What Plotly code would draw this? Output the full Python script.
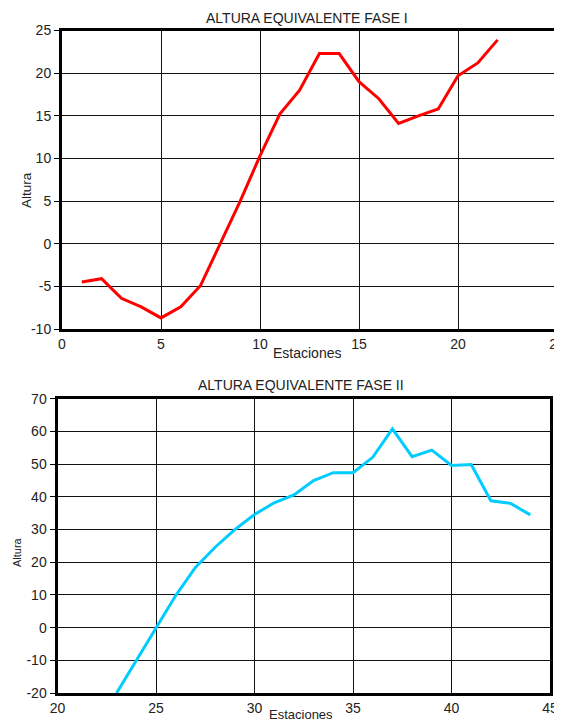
import plotly.graph_objects as go

# ---- data ----
estaciones_fase1 = list(range(1, 23))
altura_fase1 = [-4.5, -4.1, -6.4, -7.4, -8.7, -7.4, -4.9, 0.0, 5.0, 10.3, 15.2, 18.0,
                22.3, 22.3, 19.0, 17.0, 14.1, 15.0, 15.8, 19.7, 21.2, 23.9]

estaciones_fase2 = list(range(23, 45))
altura_fase2 = [-20.0, -10.0, 0.0, 9.8, 18.4, 24.6, 30.0, 34.6, 38.2, 40.6, 45.0, 47.4,
                47.4, 52.1, 60.8, 52.3, 54.3, 49.6, 49.9, 38.8, 38.0, 34.5]

x_ticks_1 = [0, 5, 10, 15, 20, 25]
y_ticks_1 = [-10, -5, 0, 5, 10, 15, 20, 25]
x_ticks_2 = [20, 25, 30, 35, 40, 45]
y_ticks_2 = [-20, -10, 0, 10, 20, 30, 40, 50, 60, 70]

title_1 = "ALTURA EQUIVALENTE FASE I"
title_2 = "ALTURA EQUIVALENTE FASE II"
x_title = "Estaciones"
y_title = "Altura"

OFF = 8  # page body margin
W, H = 562 - OFF, 722 - OFF
FONT = "Liberation Sans, Arial, sans-serif"


def px(x):
    return (x - OFF) / W


def py(y):
    return 1 - (y - OFF) / H


def labels(vals):
    return [str(v) for v in vals]


def note(text, x, y, size=12, angle=0):
    return dict(text=text, x=px(x), y=py(y), xref="paper", yref="paper",
                xanchor="center", yanchor="middle", textangle=angle,
                showarrow=False, font=dict(size=size, family=FONT, color="#222222"))


fig = go.Figure()
fig.add_trace(go.Scatter(x=estaciones_fase1, y=altura_fase1, mode="lines",
                         line=dict(color="#ff0000", width=3), xaxis="x", yaxis="y",
                         showlegend=False))
fig.add_trace(go.Scatter(x=estaciones_fase2, y=altura_fase2, mode="lines",
                         line=dict(color="#00ccff", width=3), xaxis="x2", yaxis="y2",
                         showlegend=False))

axis_common = dict(showgrid=True, gridcolor="#111111", gridwidth=1,
                   showline=True, linecolor="black", linewidth=3, mirror=True,
                   zeroline=False, tickfont=dict(family=FONT, size=14, color="#222222"),
                   automargin=False, fixedrange=True, ticklabeloverflow="allow")

fig.update_layout(
    width=W, height=H,
    margin=dict(l=0, r=0, t=0, b=0),
    paper_bgcolor="white", plot_bgcolor="white",
    font=dict(family=FONT, color="#222222"),
    xaxis=dict(domain=[px(62), px(557)], range=[0, 25], tickvals=x_ticks_1,
               ticktext=labels(x_ticks_1), anchor="y", ticks="", **axis_common),
    yaxis=dict(domain=[py(329), py(30.5)], range=[-10, 25], tickvals=y_ticks_1,
               ticktext=labels(y_ticks_1), anchor="x", ticks="outside", ticklen=5,
               tickcolor="black", **axis_common),
    xaxis2=dict(domain=[px(57.5), px(550)], range=[20, 45], tickvals=x_ticks_2,
                ticktext=labels(x_ticks_2), anchor="y2", ticks="", **axis_common),
    yaxis2=dict(domain=[py(693), py(398.8)], range=[-20, 70], tickvals=y_ticks_2,
                ticktext=labels(y_ticks_2), anchor="x2", ticks="outside", ticklen=5,
                tickcolor="black", **axis_common),
    annotations=[
        note(title_1, 307, 18, size=14),
        note(x_title, 307, 353, size=14),
        note(y_title, 26, 190, size=13.5, angle=-90),
        note(title_2, 301, 385, size=14),
        note(x_title, 301, 714, size=13),
        note(y_title, 17, 552, size=11, angle=-90),
    ],
)

fig.write_html("out.html")
